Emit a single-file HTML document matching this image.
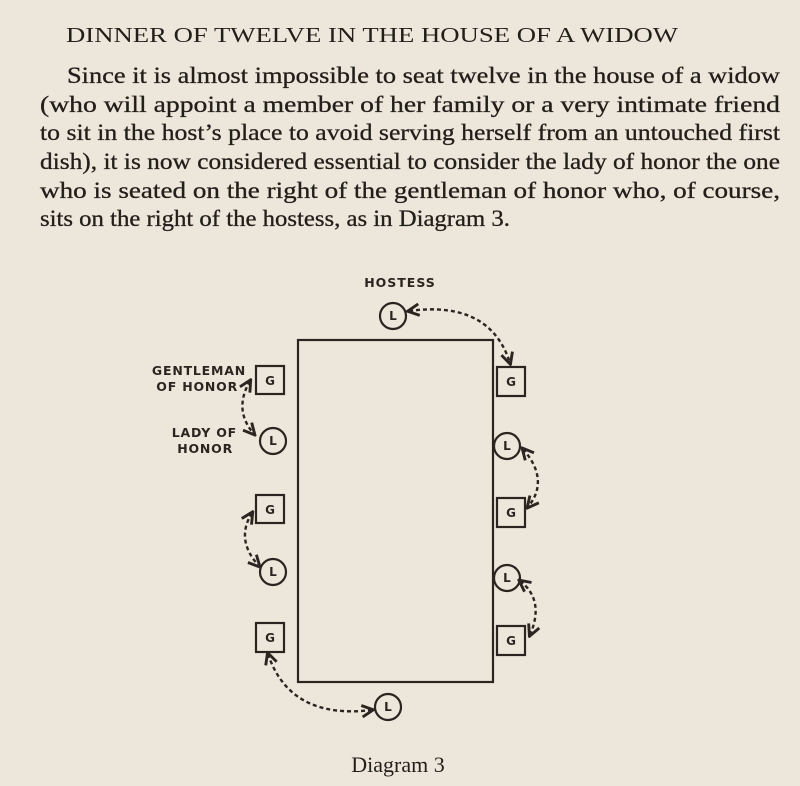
<!DOCTYPE html>
<html><head><meta charset="utf-8"><style>
html,body{margin:0;padding:0;background:#ede7db;}
svg{display:block}
</style></head><body>
<svg width="800" height="786" viewBox="0 0 800 786" xmlns="http://www.w3.org/2000/svg">
<rect width="800" height="786" fill="#ede7db"/>
<g font-family="Liberation Serif, serif" fill="#221e1a">
<text x="66" y="42" font-size="21" textLength="612" lengthAdjust="spacingAndGlyphs">DINNER OF TWELVE IN THE HOUSE OF A WIDOW</text>
<g font-size="23" stroke="#221e1a" stroke-width="0.3">
<text x="67" y="83" textLength="713" lengthAdjust="spacingAndGlyphs">Since it is almost impossible to seat twelve in the house of a widow</text>
<text x="40" y="112" textLength="740" lengthAdjust="spacingAndGlyphs">(who will appoint a member of her family or a very intimate friend</text>
<text x="40" y="140" textLength="740" lengthAdjust="spacingAndGlyphs">to sit in the host’s place to avoid serving herself from an untouched first</text>
<text x="40" y="169" textLength="740" lengthAdjust="spacingAndGlyphs">dish), it is now considered essential to consider the lady of honor the one</text>
<text x="40" y="198" textLength="740" lengthAdjust="spacingAndGlyphs">who is seated on the right of the gentleman of honor who, of course,</text>
<text x="40" y="226" textLength="470" lengthAdjust="spacingAndGlyphs">sits on the right of the hostess, as in Diagram 3.</text>
</g>
<text x="398" y="772" font-size="22" text-anchor="middle">Diagram 3</text>
</g>
<defs><marker id="a" viewBox="0 0 10 10" refX="8" refY="5" markerWidth="6" markerHeight="6" orient="auto-start-reverse"><path d="M1 1 L9 5 L1 9" fill="none" stroke="#2a2520" stroke-width="2"/></marker></defs>
<g stroke="#2a2520" stroke-width="2.2" fill="none">
<rect x="298" y="340" width="195" height="342"/>
<circle cx="393" cy="316" r="13"/><circle cx="507" cy="446" r="13"/><circle cx="507" cy="578" r="13"/>
<circle cx="273" cy="441" r="13"/><circle cx="273" cy="572" r="13"/><circle cx="388" cy="707" r="13"/>
<rect x="497" y="367" width="28" height="29"/><rect x="497" y="498" width="28" height="29"/><rect x="497" y="626" width="28" height="29"/>
<rect x="256" y="366" width="28" height="28"/><rect x="256" y="495" width="28" height="28"/><rect x="256" y="623" width="28" height="29"/>
<g stroke-dasharray="4 3" stroke-width="2.4" marker-start="url(#a)" marker-end="url(#a)">
<path d="M409 311 Q490 300 510 363"/>
<path d="M523 449 Q550 480 528 507"/>
<path d="M520 581 Q545 600 530 635"/>
<path d="M250 381 Q233 410 254 434"/>
<path d="M252 513 Q235 540 259 566"/>
<path d="M268 654 Q290 720 372 710"/>
</g>
</g>
<g font-family="DejaVu Sans, sans-serif" font-weight="bold" fill="#2a2520" font-size="12" text-anchor="middle">
<text x="393" y="320">L</text><text x="507" y="450">L</text><text x="507" y="582">L</text>
<text x="273" y="445">L</text><text x="273" y="576">L</text><text x="388" y="711">L</text>
<text x="511" y="386">G</text><text x="511" y="517">G</text><text x="511" y="645">G</text>
<text x="270" y="385">G</text><text x="270" y="514">G</text><text x="270" y="642">G</text>
<text x="400" y="287" font-size="12.5" letter-spacing="1">HOSTESS</text>
<g text-anchor="end" font-size="12.5" letter-spacing="0.8">
<text x="246" y="375">GENTLEMAN</text><text x="238" y="391">OF HONOR</text>
<text x="237" y="437">LADY OF</text><text x="233" y="453">HONOR</text>
</g>
</g>
</svg>
</body></html>
